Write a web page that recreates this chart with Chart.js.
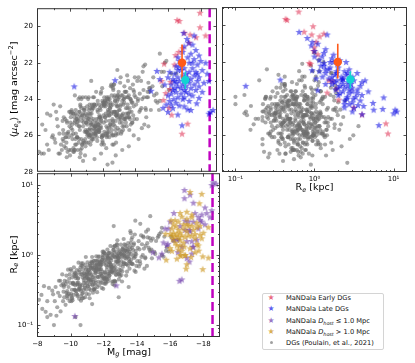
<!DOCTYPE html>
<html><head><meta charset="utf-8">
<script src="https://cdn.jsdelivr.net/npm/chart.js@4.4.0/dist/chart.umd.min.js"></script>
<style>
html,body{margin:0;padding:0;background:#fff;width:415px;height:363px;overflow:hidden;font-family:"DejaVu Sans",sans-serif;}
canvas{position:absolute;}
#cA{left:0;top:0;} #cB{left:215px;top:0;} #cC{left:0;top:165px;}
.leg{position:absolute;left:262px;top:293px;width:120px;height:55px;border:1px solid #d4d4d4;border-radius:2px;background:#fff;}
.row{position:absolute;left:0;width:120px;height:10px;line-height:10px;white-space:nowrap;color:#111;}
.mk{position:absolute;left:3px;width:10px;text-align:center;font-size:8px;}
.tx{position:absolute;left:23px;font-size:6.7px;}
.tx sub{font-size:4.8px;vertical-align:-1.5px;}
.dot{display:inline-block;width:3px;height:3px;border-radius:50%;background:rgba(120,120,120,0.7);vertical-align:middle;}
</style></head>
<body>
<canvas id="cA" width="222" height="180"></canvas>
<canvas id="cB" width="200" height="200"></canvas>
<canvas id="cC" width="225" height="198"></canvas>
<div class="leg">
 <div class="row" style="top:-1px"><span class="mk" style="color:rgba(220,20,60,0.65)">★</span><span class="tx">MaNDala Early DGs</span></div>
 <div class="row" style="top:10px"><span class="mk" style="color:rgba(0,0,230,0.65)">★</span><span class="tx">MaNDala Late DGs</span></div>
 <div class="row" style="top:22px"><span class="mk" style="color:rgba(110,60,170,0.7)">★</span><span class="tx">MaNDala <i>D<sub>host</sub></i> ≤ 1.0 Mpc</span></div>
 <div class="row" style="top:33px"><span class="mk" style="color:rgba(205,150,30,0.75)">★</span><span class="tx">MaNDala <i>D<sub>host</sub></i> &gt; 1.0 Mpc</span></div>
 <div class="row" style="top:44px"><span class="mk"><span class="dot"></span></span><span class="tx">DGs (Poulain, et al., 2021)</span></div>
</div>
<script>
// ---------------- data ----------------
const grayMg = [
-8.1,-8.3,-8.4,-8.6,-8.7,-8.8,-8.9,-8.5,-8.95,-8.25,
-9.05,-9.1,-9.2,-9.25,-9.3,-9.35,-9.4,-9.45,-9.5,-9.55,
-9.6,-9.62,-9.65,-9.7,-9.72,-9.75,-9.8,-9.82,-9.85,-9.88,
-9.9,-9.92,-9.95,-9.97,-9.15,-9.38,-9.58,-9.78,-10.02,-10.05,
-10.08,-10.1,-10.12,-10.15,-10.18,-10.2,-10.22,-10.25,-10.28,-10.3,
-10.32,-10.35,-10.38,-10.4,-10.42,-10.45,-10.48,-10.5,-10.52,-10.55,
-10.58,-10.6,-10.62,-10.65,-10.68,-10.7,-10.72,-10.75,-10.78,-10.8,
-10.82,-10.85,-10.88,-10.9,-10.92,-10.95,-10.98,-10.03,-10.36,-10.64,
-10.07,-10.13,-10.21,-10.27,-10.33,-10.41,-10.46,-10.53,-10.57,-10.63,
-10.69,-10.74,-10.79,-10.84,-10.87,-10.93,-10.96,-10.99,-11.02,-11.05,
-11.08,-11.1,-11.12,-11.15,-11.18,-11.2,-11.22,-11.25,-11.28,-11.3,
-11.32,-11.35,-11.38,-11.4,-11.42,-11.45,-11.48,-11.5,-11.52,-11.55,
-11.58,-11.6,-11.62,-11.65,-11.68,-11.7,-11.72,-11.75,-11.78,-11.8,
-11.82,-11.85,-11.88,-11.9,-11.92,-11.95,-11.98,-11.01,-11.03,-11.07,
-11.11,-11.14,-11.17,-11.21,-11.24,-11.27,-11.31,-11.34,-11.37,-11.41,
-11.44,-11.47,-11.51,-11.54,-11.57,-11.61,-11.64,-11.67,-11.71,-11.74,
-11.77,-11.81,-11.84,-11.87,-11.91,-11.94,-11.97,-11.99,-11.06,-11.33,
-11.56,-11.79,-11.93,-12.05,-12.55,-12.25,-12.85,-12.15,-12.65,-12.35,
-12.95,-12.45,-12.75,-12.1,-12.6,-12.3,-12.9,-12.2,-12.7,-12.4,
-12.8,-12.5,-12.02,-12.52,-12.27,-12.77,-12.12,-12.62,-12.37,-12.87,
-12.17,-12.67,-12.42,-12.92,-12.07,-12.57,-12.32,-12.82,-12.22,-12.72,
-12.47,-12.97,-12.03,-12.08,-12.58,-12.28,-12.88,-12.18,-12.68,-12.38,
-12.98,-12.48,-12.78,-12.13,-12.63,-12.33,-12.93,-12.23,-12.73,-12.43,
-12.83,-12.53,-12.04,-12.54,-12.29,-12.79,-12.14,-12.64,-12.39,-12.89,
-12.19,-12.69,-12.44,-12.94,-12.09,-12.59,-12.34,-12.84,-13.05,-13.5,
-13.25,-13.75,-13.1,-13.6,-13.3,-13.9,-13.15,-13.65,-13.35,-13.95,
-13.2,-13.7,-13.4,-13.8,-13.45,-13.85,-13.55,-13.02,-13.52,-13.27,
-13.77,-13.12,-13.62,-13.37,-13.87,-13.17,-13.67,-13.42,-13.92,-13.07,
-13.57,-13.32,-13.82,-13.22,-13.72,-13.47,-13.97,-13.03,-13.53,-13.28,
-13.78,-13.13,-13.63,-13.38,-13.88,-13.18,-13.68,-13.43,-13.93,-13.08,
-13.58,-13.33,-13.83,-14.05,-14.5,-14.25,-14.75,-14.1,-14.6,-14.3,
-14.9,-14.15,-14.65,-14.35,-14.95,-14.2,-14.7,-14.4,-14.8,-14.45,
-14.85,-14.55,-14.02,-14.52,-14.27,-14.77,-14.12,-14.62,-14.37,-14.87,
-14.17,-14.67,-14.42,-15.05,-15.3,-15.6,-15.15,-15.9,-15.45,-16.2,
-15.25,-15.75,-15.5,-16.05,-15.1,-15.35,-16.5,-15.65,-10.8,-11.5,
-12.3,-9.8,-12.6,-11.9,-12.8,-13.2,-13.6,-14.2,-14.8,-13.9,
-12.9,-13.5,-11.3,-10.3,-9.0,-8.6,-14.5,-15.8,-15.5,-10.6,
-9.55,-9.75,-9.95,-10.05,-10.15,-10.25,-10.35,-10.45,-10.55,-10.65,
-10.75,-10.85,-10.95,-11.05,-11.15,-11.25,-11.35,-11.45,-11.55,-11.65,
-11.75,-11.85,-11.95,-12.05,-12.15,-12.25,-12.35,-12.45,-12.55,-12.65,
-12.75,-12.85,-12.95,-13.05,-13.15,-13.25,-13.35,-13.45,-13.55,-13.65,
-9.6,-9.8,-10.0,-10.1,-10.2,-10.3,-10.4,-10.5,-10.6,-10.7,
-10.8,-10.9,-11.0,-11.1,-11.2,-11.3,-11.4,-11.5,-11.6,-11.7,
-11.8,-11.9,-12.0,-12.1,-12.2,-12.3,-12.4,-12.5,-12.6,-12.7,
-12.8,-12.9,-13.0,-13.1,-13.2,-13.3,-13.4,-13.5,-13.6,-13.7,
-10.42,-10.58,-10.72,-10.88,-11.02,-11.13,-11.22,-11.36,-11.44,-11.53,
-11.62,-11.73,-11.82,-11.92,-12.02,-12.11,-12.22,-12.31,-12.42,-12.51,
-12.62,-12.71,-12.82,-12.91,-13.02,-13.11,-13.22,-13.31,-11.08,-11.28,
-11.48,-11.68,-11.88,-12.08,-12.28,-12.48,-12.68,-12.88,-10.95,-11.18];
const grayRe = [
0.23,0.17,0.36,0.22,0.34,0.14,0.31,0.155,0.275,0.27,
0.22,0.35,0.18,0.29,0.43,0.26,0.157,0.37,0.53,0.22,
0.35,0.25,0.43,0.195,0.385,0.51,0.305,0.24,0.62,0.35,
0.28,0.46,0.22,0.40,0.136,0.43,0.30,0.42,0.264,0.60,
0.32,0.48,0.226,0.40,0.27,0.67,0.32,0.56,0.37,0.31,
0.47,0.305,0.61,0.40,0.27,0.46,0.78,0.33,0.237,0.57,
0.38,0.53,0.31,0.71,0.37,0.28,0.48,0.62,0.244,0.44,
0.55,0.34,0.72,0.40,0.94,0.32,0.49,0.28,0.53,0.26,
0.245,0.385,0.53,0.32,0.50,0.26,0.405,0.61,0.36,0.223,
0.53,0.76,0.32,0.50,0.36,0.625,0.28,0.555,0.79,0.356,
0.61,0.465,0.71,0.242,0.57,0.316,0.66,0.41,0.525,0.94,
0.37,0.48,0.82,0.62,0.32,0.73,0.43,0.60,0.40,0.96,
0.69,0.295,0.49,0.84,0.575,0.37,0.75,0.49,0.78,0.62,
0.405,0.73,0.34,0.85,0.575,1.01,0.476,0.53,0.36,0.45,
0.275,0.33,0.75,0.65,0.51,0.445,0.64,0.38,0.42,0.32,
0.83,0.38,0.56,0.73,0.64,0.81,0.72,0.95,0.65,0.95,
0.81,0.72,0.63,0.51,0.40,0.92,0.33,1.09,0.53,0.70,
0.65,0.54,1.12,0.57,0.56,0.42,0.75,0.48,0.43,0.58,
0.56,0.685,1.11,0.78,0.97,1.07,0.82,0.45,0.67,1.35,
0.98,0.42,0.46,0.67,0.54,0.58,0.39,0.64,1.09,0.89,
0.47,0.42,0.73,1.01,0.85,1.18,0.79,1.63,0.97,0.81,
0.91,1.12,1.06,1.05,0.42,0.72,1.05,0.98,0.94,0.77,
0.50,0.66,0.81,0.41,1.09,0.51,0.625,0.93,0.53,0.59,
0.80,0.385,0.46,0.99,1.06,1.44,0.87,0.37,0.89,0.91,
0.62,0.92,0.64,0.53,0.56,1.30,0.55,0.94,1.03,0.97,
0.99,0.74,0.42,0.76,0.96,0.95,1.19,1.04,0.89,1.03,
0.74,1.27,1.11,1.40,0.71,0.60,0.64,0.61,0.89,1.04,
1.18,0.59,1.49,0.74,1.97,1.28,1.66,1.34,0.575,0.52,
0.81,1.16,1.47,1.15,1.80,1.49,0.70,1.41,0.81,0.91,
0.96,1.23,2.06,1.24,1.04,1.02,0.76,0.93,1.15,0.92,
1.20,0.75,0.91,1.27,0.93,1.91,1.20,1.58,0.70,1.43,
0.90,1.21,1.79,1.0,1.72,0.75,1.28,1.79,1.13,0.64,
1.61,2.16,0.82,1.36,0.94,1.75,0.69,1.48,1.86,1.20,
0.82,2.31,1.24,1.11,1.88,0.95,1.59,1.13,2.12,1.61,
1.78,1.15,2.45,1.84,1.04,1.99,1.66,1.83,0.40,0.55,
0.90,0.26,2.6,0.85,1.4,1.7,2.2,2.8,3.6,3.1,
0.25,0.35,0.20,0.13,0.10,0.13,0.90,1.30,1.0,0.10,
0.39,0.29,0.53,0.22,0.40,0.50,0.28,0.47,0.34,0.76,
0.29,0.46,0.66,0.46,0.38,0.81,0.29,0.66,0.62,0.485,
0.74,0.54,0.94,0.39,0.71,0.89,0.51,0.84,0.60,1.35,
0.52,0.82,1.17,0.81,0.68,1.43,0.51,1.18,1.11,0.86,
0.37,0.27,0.63,0.24,0.385,0.55,0.38,0.32,0.67,0.24,
0.55,0.52,0.40,0.61,0.45,0.78,0.33,0.585,0.74,0.42,
0.70,0.50,1.12,0.43,0.68,0.97,0.68,0.57,1.19,0.42,
0.98,0.92,0.72,1.09,0.79,1.39,0.58,1.04,1.32,0.75,
0.38,0.325,0.69,0.25,0.585,0.55,0.43,0.66,0.48,0.83,
0.35,0.625,0.79,0.45,0.75,0.53,1.20,0.46,0.73,1.03,
0.72,0.60,1.27,0.45,1.04,0.975,0.76,1.16,0.43,0.78,
0.335,0.62,0.80,0.47,0.80,0.59,1.36,0.54,0.48,0.70];
const grayMu = [
26.9,25.4,27.0,26.5,26.8,24.9,26.1,25.7,26.0,27.0,
26.2,26.4,25.1,25.5,27.0,25.9,24.4,26.5,26.8,25.2,
26.3,25.0,26.6,25.1,26.1,26.7,25.2,25.3,26.9,25.9,
25.8,26.1,24.7,25.5,24.7,27.0,25.7,26.4,24.7,26.8,
25.6,26.0,24.7,26.2,24.8,26.9,24.8,26.8,25.3,25.2,
26.5,24.8,26.5,25.1,24.9,26.1,26.8,25.2,24.0,26.2,
25.5,25.7,24.9,27.0,25.0,24.5,25.2,26.5,23.9,25.5,
26.3,24.6,26.4,24.6,27.1,24.8,25.3,25.3,25.9,24.4,
24.8,25.4,26.7,25.0,26.2,25.1,25.3,26.4,24.7,24.3,
26.2,26.5,24.8,25.3,24.9,26.2,23.9,25.8,26.4,24.4,
25.9,25.1,26.4,23.9,25.1,24.3,25.6,25.3,25.4,26.3,
24.8,24.6,26.1,25.4,24.5,25.9,24.3,25.5,24.4,26.0,
25.7,23.6,25.1,26.1,24.6,24.1,25.4,25.1,25.7,24.9,
24.5,25.0,23.7,25.6,25.2,26.1,24.1,25.8,25.0,24.9,
24.0,24.8,26.1,26.0,24.8,25.0,25.4,24.5,25.2,23.9,
26.2,23.9,25.5,25.9,25.3,25.9,25.3,26.3,25.5,25.8,
25.8,25.8,25.0,24.6,23.6,26.1,23.4,26.3,26.0,25.7,
25.5,24.3,26.5,24.9,23.8,23.9,24.9,24.1,23.5,24.0,
24.0,24.5,25.5,25.8,25.1,25.8,24.1,24.2,24.7,26.1,
25.2,23.3,24.2,24.8,24.0,24.1,24.2,24.3,25.8,24.4,
24.4,23.2,24.9,25.6,25.3,25.7,24.6,26.4,26.0,24.7,
25.4,24.9,26.0,26.5,23.3,24.9,24.7,25.9,25.4,24.9,
23.6,24.3,24.7,24.1,25.2,24.3,24.4,25.5,23.8,24.0,
24.9,23.2,24.3,25.9,25.6,26.0,25.0,23.4,25.6,24.8,
24.8,24.8,24.5,23.8,24.3,26.0,24.7,24.9,25.3,23.9,
24.8,24.1,22.8,23.8,24.0,24.4,24.9,24.5,25.1,23.8,
24.1,24.0,25.1,25.3,23.6,23.2,23.0,23.9,24.5,24.3,
24.7,24.3,25.0,23.9,24.9,25.8,25.1,25.3,23.6,23.1,
23.9,24.2,25.3,25.5,25.4,25.5,22.8,25.7,24.3,24.0,
24.2,25.9,25.7,25.0,23.5,25.3,23.4,24.5,25.1,24.4,
24.8,23.3,24.2,24.3,23.5,24.7,23.6,25.1,22.1,24.6,
23.4,24.1,24.6,23.0,24.6,22.8,23.9,25.6,23.1,22.5,
23.4,25.4,23.9,23.9,23.7,23.9,23.0,24.5,24.5,23.6,
24.0,25.0,24.0,23.3,23.7,22.5,23.8,21.9,24.6,22.6,
24.1,22.5,24.1,23.5,22.8,24.2,22.6,23.3,27.4,27.3,
27.6,27.2,27.5,27.0,27.1,26.8,26.6,26.2,25.5,26.0,
22.4,22.7,23.0,23.8,24.3,24.8,22.2,22.0,21.5,23.9,
26.2,26.1,26.8,25.0,25.7,26.9,24.6,26.1,25.5,26.8,
24.9,25.1,26.6,25.4,24.6,26.5,24.3,25.6,25.5,25.5,
25.4,25.3,26.0,24.2,25.0,26.1,23.9,25.4,24.7,26.0,
24.1,24.3,25.9,24.6,23.8,25.7,23.6,24.8,24.8,24.7,
25.9,25.9,27.1,24.6,25.9,26.8,25.4,25.1,27.2,24.0,
26.4,25.8,25.3,25.7,25.7,25.9,24.4,25.7,25.8,24.7,
25.0,25.1,26.4,23.9,25.2,26.0,24.7,24.4,26.5,23.2,
25.7,25.0,24.6,25.0,24.9,25.1,23.6,25.0,25.0,24.0,
26.1,24.7,26.7,24.5,25.8,25.9,24.5,26.2,25.1,25.9,
24.3,25.7,25.6,24.4,26.0,24.3,26.7,24.1,25.2,25.5,
25.3,23.9,25.9,23.8,25.1,25.1,23.8,25.5,25.2,26.0,
24.3,25.7,25.5,24.4,25.9,24.2,26.5,23.9,25.7,26.0];

const earlyMg = [-17.96,-16.56,-16.7,-17.96,-17.36,-18.3,-17.72,-17.3,-16.9,-16.66,-16.46,-15.76,-15.6,-16.16,-16.12,-15.86,-15.72,-16.06,-16.22,-17.2,-16.86,-16.4,-17.0];
const earlyRe = [0.63,0.43,0.45,0.96,1.31,0.92,1.16,1.05,1.0,0.98,1.1,0.86,1.52,1.70,1.9,1.45,2.02,3.13,3.99,8.0,8.5,0.89,0.74];
const earlyMu = [19.25,19.65,19.7,20.05,20.45,20.5,20.6,20.9,21.2,21.4,21.58,22.05,23.0,23.05,23.45,23.67,24.05,24.48,24.86,25.35,25.9,22.1,20.35];
const earlyNear = [0,1,1,0,1,0,0,1,0,0,1,0,1,0,0,1,0,0,1,0,1,0,0];

const lateMg = [
-16.96,-17.16,-17.26,-17.5,-17.0,-17.7,-16.9,-17.4,-17.9,-17.2,
-17.6,-16.7,-18.0,-17.3,-17.8,-16.5,-17.0,-17.5,-18.1,-16.8,
-17.3,-17.7,-16.4,-17.1,-18.4,-16.9,-17.6,-17.9,-16.6,-17.2,
-16.3,-17.4,-17.8,-16.7,-17.0,-18.2,-16.5,-17.3,-16.9,-17.6,
-16.2,-17.1,-16.6,-17.9,-16.8,-17.4,-16.4,-17.0,-17.7,-16.3,
-15.5,-15.32,-14.96,-16.1,-18.3,-18.5,-17.5,-16.85,-17.15,-16.6,
-16.5,-17.1,-16.2,-16.8,-17.5,-16.0,-16.6,-17.0,-16.35,-16.9,
-16.1,-17.76,-16.5,-15.9,-16.7,-15.7,-17.2,-16.3,-16.0,-18.76,
-18.5,-18.6,-16.86,-17.9,-17.4,-16.6,-15.8,-16.0,-16.2,-17.3,
-10.26,-12.76,-17.6,-16.6,-17.0,-18.1,-17.8,-16.4,-17.3,-16.7];
const lateRe = [
0.64,0.81,0.94,1.10,0.91,1.38,1.0,1.32,1.74,1.25,
1.66,1.15,2.09,1.58,1.95,1.20,1.58,2.0,2.75,1.51,
1.9,2.40,1.38,1.91,3.47,1.82,2.51,3.02,1.66,2.19,
1.51,2.3,3.16,1.91,2.19,3.98,1.82,2.63,2.29,2.9,
1.66,2.63,2.09,3.80,2.40,3.0,2.0,2.75,3.5,1.85,
1.05,0.93,1.1,1.15,2.51,4.37,1.74,1.32,2.29,1.38,
2.29,3.02,2.09,2.75,3.98,2.0,2.6,3.31,2.57,3.1,
2.40,5.5,3.02,2.40,3.55,2.39,7.3,3.16,3.02,10.5,
10.0,11.0,6.5,7.5,5.6,4.0,1.38,1.26,2.75,3.8,
0.135,0.37,1.45,1.0,4.17,4.79,2.63,1.66,3.47,1.32];
const lateMu = [
20.36,20.69,20.9,21.0,21.1,21.3,21.4,21.5,21.6,21.7,
21.8,21.9,21.9,22.0,22.1,22.2,22.3,22.3,22.4,22.4,
22.5,22.5,22.6,22.6,22.6,22.7,22.7,22.8,22.8,22.8,
22.9,22.9,23.0,23.0,23.0,23.1,23.1,23.1,23.2,23.2,
23.2,23.3,23.3,23.3,23.4,23.4,23.4,23.5,23.5,23.5,
22.9,22.45,23.54,22.5,22.0,23.0,22.0,22.05,22.95,22.4,
23.6,23.6,23.7,23.7,23.8,23.8,23.9,23.9,24.0,24.0,
24.1,24.23,24.2,24.3,24.35,24.48,24.56,24.5,24.7,24.6,
24.8,24.7,25.44,23.93,24.6,24.85,23.2,22.8,24.3,24.1,
23.3,22.96,20.5,21.7,24.4,23.6,22.6,23.0,23.7,22.2];
const lateNear = [
0,1,0,0,1,0,0,1,0,0,
1,0,0,1,0,0,1,0,1,0,
0,1,0,0,1,0,0,1,0,1,
0,0,1,0,0,1,0,0,1,0,
1,0,0,1,0,1,0,0,1,0,
1,1,1,0,0,1,0,0,1,0,
0,1,0,0,1,0,1,0,0,1,
0,0,0,1,0,1,1,0,1,1,
1,1,1,0,1,0,1,0,0,0,
1,1,0,0,0,1,0,1,0,1];

// medians (early, late) with vertical error bars
const medMg = [-16.86, -17.06];
const medRe = [1.97, 2.84];
const medMu = [22.0, 22.95];
const medMuLo = [21.0, 22.5];
const medMuHi = [22.9, 23.45];

const mgCut = -18.55;
const mgTicks = [-8,-10,-12,-14,-16,-18];
const mgMinor = [-9,-11,-13,-15,-17,-19];
const muTicks = [20,22,24,26,28];
const muMinor = [19,21,23,25,27];
const reTicks = [0.1,1,10];
const reTickLabels = ['10\u207B\u00B9','10\u2070','10\u00B9'];
const reMinor = [0.07,0.08,0.09,0.2,0.3,0.4,0.5,0.6,0.7,0.8,0.9,2,3,4,5,6,7,8,9];

// ---------------- helpers ----------------
Chart.defaults.font.family = '"DejaVu Sans", sans-serif';
const pts = (xs, ys) => xs.map((x, i) => ({x: x, y: ys[i]}));
const pick = (xs, ys, flags, f) => { const o = []; xs.forEach((x, i) => { if (flags[i] === f) o.push({x: x, y: ys[i]}); }); return o; };
const minus = v => (v < 0 ? '\u2212' + Math.abs(v) : String(v));

function starImg(color, R) {
  const s = Math.ceil(R * 2 + 2);
  const c = document.createElement('canvas'); c.width = s; c.height = s;
  const g = c.getContext('2d'); g.fillStyle = color; g.beginPath();
  for (let k = 0; k < 10; k++) {
    const r = k % 2 ? R * 0.42 : R;
    const a = -Math.PI / 2 + k * Math.PI / 5;
    const px = s / 2 + r * Math.cos(a), py = s / 2 + r * Math.sin(a) + 0.3;
    if (k) g.lineTo(px, py); else g.moveTo(px, py);
  }
  g.closePath(); g.fill(); return c;
}
const cEarly = 'rgba(220,20,60,0.5)', cLate = 'rgba(0,0,225,0.55)';
const cNear = 'rgba(110,60,170,0.6)', cFar = 'rgba(205,150,30,0.65)';
const cGray = 'rgba(110,110,110,0.6)';
const cMedE = '#ff5a1a', cMedL = '#13d3d3';
const stE = starImg(cEarly, 3.9), stL = starImg(cLate, 3.9), stN = starImg(cNear, 3.9), stF = starImg(cFar, 3.9);

function rich(ctx, parts, x, y, rot, base) {
  ctx.save(); ctx.translate(x, y); if (rot) ctx.rotate(-Math.PI / 2);
  const specs = parts.map(([t, st]) => {
    let size = base, dy = 0; const it = st.indexOf('i') === 0;
    if (st.endsWith('subsub')) { size = base * 0.5; dy = base * 0.45; }
    else if (st.endsWith('sub')) { size = base * 0.7; dy = base * 0.22; }
    else if (st.endsWith('sup')) { size = base * 0.7; dy = -base * 0.38; }
    const font = (it ? 'italic ' : '') + size.toFixed(2) + 'px "DejaVu Sans"';
    ctx.font = font; return {t, font, dy, w: ctx.measureText(t).width};
  });
  const total = specs.reduce((s, p) => s + p.w, 0); let cx = -total / 2;
  ctx.textBaseline = 'middle'; ctx.fillStyle = '#000';
  specs.forEach(p => { ctx.font = p.font; ctx.fillText(p.t, cx, p.dy); cx += p.w; });
  ctx.restore();
}

function deco(o) {
  return {
    id: 'deco',
    afterDatasetsDraw(chart) {
      const ctx = chart.ctx, a = chart.chartArea, xs = chart.scales.x, ys = chart.scales.y;
      ctx.save(); ctx.strokeStyle = '#222'; ctx.lineWidth = 0.8;
      const seg = (x1, y1, x2, y2) => { ctx.beginPath(); ctx.moveTo(x1, y1); ctx.lineTo(x2, y2); ctx.stroke(); };
      const xt = (vals, len) => vals.forEach(v => { const p = Math.round(xs.getPixelForValue(v)) + 0.5; if (p < a.left + 1 || p > a.right - 1) return; seg(p, a.bottom, p, a.bottom - len); seg(p, a.top, p, a.top + len); });
      const yt = (vals, len) => vals.forEach(v => { const p = Math.round(ys.getPixelForValue(v)) + 0.5; if (p < a.top + 1 || p > a.bottom - 1) return; seg(a.left, p, a.left + len, p); seg(a.right, p, a.right - len, p); });
      xt(o.xMajor, 3.5); xt(o.xMinor, 2); yt(o.yMajor, 3.5); yt(o.yMinor, 2);
      ctx.lineWidth = 1; ctx.strokeStyle = '#333';
      ctx.strokeRect(a.left + 0.5, a.top + 0.5, a.right - a.left - 1, a.bottom - a.top - 1);
      ctx.restore();
      (o.titles || []).forEach(t => rich(ctx, t.parts, t.x, t.y, t.rot, 9.5));
    }
  };
}

const tickFont = {family: '"DejaVu Sans", sans-serif', size: 7};
const noGrid = {display: false, drawTicks: false};
const common = {responsive: false, animation: false, events: [], plugins: {legend: {display: false}, tooltip: {enabled: false}}};

const grayDS = (d) => ({data: d, pointRadius: 2.1, pointBackgroundColor: cGray, pointBorderWidth: 0, showLine: false, order: 9});
const starDS = (d, img, ord) => ({data: d, pointStyle: img, pointRadius: 4, showLine: false, order: ord});
const vline = (d) => ({data: d, showLine: true, borderColor: '#c000c0', borderWidth: 2.5, borderDash: [9, 4], pointRadius: 0, order: 8});
const ebar = (d, col) => ({data: d, showLine: true, borderColor: col, borderWidth: 1.6, pointRadius: 0, order: 3});
const medDS = (d, col) => ({data: d, showLine: false, pointRadius: 4.2, pointBackgroundColor: col, pointBorderWidth: 0, order: 2});

// ---------------- panel A: Mg vs <mu_e> ----------------
new Chart(document.getElementById('cA'), {
  type: 'scatter',
  data: {datasets: [
    grayDS(pts(grayMg, grayMu)),
    vline([{x: mgCut, y: 19}, {x: mgCut, y: 28}]),
    starDS(pts(earlyMg, earlyMu), stE, 6),
    starDS(pts(lateMg, lateMu), stL, 5),
    ebar([{x: medMg[0], y: medMuLo[0]}, {x: medMg[0], y: medMuHi[0]}], cMedE),
    ebar([{x: medMg[1], y: medMuLo[1]}, {x: medMg[1], y: medMuHi[1]}], cMedL),
    medDS([{x: medMg[0], y: medMu[0]}], cMedE),
    medDS([{x: medMg[1], y: medMu[1]}], cMedL)
  ]},
  options: Object.assign({}, common, {
    layout: {padding: {left: 0, top: 7, right: 1, bottom: 8}},
    scales: {
      x: {type: 'linear', min: -19, max: -7.98, reverse: true, display: false},
      y: {type: 'linear', min: 19, max: 28, reverse: true, grid: noGrid, border: {display: false},
          afterFit: s => { s.width = 37; },
          afterBuildTicks: s => { s.ticks = muTicks.map(v => ({value: v})); },
          ticks: {font: tickFont, color: '#000', padding: 4, autoSkip: false, callback: v => String(v)}}
    }
  }),
  plugins: [deco({xMajor: mgTicks, xMinor: mgMinor, yMajor: muTicks, yMinor: muMinor,
    titles: [{x: 14.5, y: 89.5, rot: true, parts: [['\u27E8', 'n'], ['\u03BC', 'i'], ['e', 'isub'], ['g', 'isubsub'], ['\u27E9 [mag arcsec', 'n'], ['\u22122', 'sup'], [']', 'n']]}]})]
});

// ---------------- panel B: Re vs <mu_e> ----------------
new Chart(document.getElementById('cB'), {
  type: 'scatter',
  data: {datasets: [
    grayDS(pts(grayRe, grayMu)),
    starDS(pts(earlyRe, earlyMu), stE, 6),
    starDS(pts(lateRe, lateMu), stL, 5),
    ebar([{x: medRe[0], y: medMuLo[0]}, {x: medRe[0], y: medMuHi[0]}], cMedE),
    ebar([{x: medRe[1], y: medMuLo[1]}, {x: medRe[1], y: medMuHi[1]}], cMedL),
    medDS([{x: medRe[0], y: medMu[0]}], cMedE),
    medDS([{x: medRe[1], y: medMu[1]}], cMedL)
  ]},
  options: Object.assign({}, common, {
    layout: {padding: {left: 7, top: 7, right: 8, bottom: 0}},
    scales: {
      x: {type: 'logarithmic', min: 0.0676, max: 14.8, grid: noGrid, border: {display: false},
          afterFit: s => { s.height = 28; },
          afterBuildTicks: s => { s.ticks = reTicks.map(v => ({value: v})); },
          ticks: {font: tickFont, color: '#000', padding: 3, autoSkip: false, maxRotation: 0, callback: (v, i) => reTickLabels[i]}},
      y: {type: 'linear', min: 19, max: 28, reverse: true, display: false}
    }
  }),
  plugins: [deco({xMajor: reTicks, xMinor: reMinor, yMajor: muTicks, yMinor: muMinor,
    titles: [{x: 99.5, y: 188, rot: false, parts: [['R', 'n'], ['e', 'isub'], [' [kpc]', 'n']]}]})]
});

// ---------------- panel C: Mg vs Re ----------------
new Chart(document.getElementById('cC'), {
  type: 'scatter',
  data: {datasets: [
    grayDS(pts(grayMg, grayRe)),
    vline([{x: mgCut, y: 0.0676}, {x: mgCut, y: 14.8}]),
    starDS(pick(earlyMg, earlyRe, earlyNear, 1).concat(pick(lateMg, lateRe, lateNear, 1)), stN, 6),
    starDS(pick(earlyMg, earlyRe, earlyNear, 0).concat(pick(lateMg, lateRe, lateNear, 0)), stF, 5)
  ]},
  options: Object.assign({}, common, {
    layout: {padding: {left: 0, top: 7, right: 4, bottom: 0}},
    scales: {
      x: {type: 'linear', min: -19, max: -7.98, reverse: true, grid: noGrid, border: {display: false},
          afterFit: s => { s.height = 26; },
          afterBuildTicks: s => { s.ticks = mgTicks.map(v => ({value: v})); },
          ticks: {font: tickFont, color: '#000', padding: 3, autoSkip: false, maxRotation: 0, callback: v => minus(v)}},
      y: {type: 'logarithmic', min: 0.0676, max: 14.8, grid: noGrid, border: {display: false},
          afterFit: s => { s.width = 37; },
          afterBuildTicks: s => { s.ticks = reTicks.map(v => ({value: v})); },
          ticks: {font: tickFont, color: '#000', padding: 4, autoSkip: false, callback: (v, i) => reTickLabels[i]}}
    }
  }),
  plugins: [deco({xMajor: mgTicks, xMinor: mgMinor, yMajor: reTicks, yMinor: reMinor,
    titles: [{x: 14.5, y: 89.5, rot: true, parts: [['R', 'n'], ['e', 'isub'], [' [kpc]', 'n']]},
             {x: 129, y: 187.5, rot: false, parts: [['M', 'n'], ['g', 'isub'], [' [mag]', 'n']]}]})]
});
</script>
</body></html>
